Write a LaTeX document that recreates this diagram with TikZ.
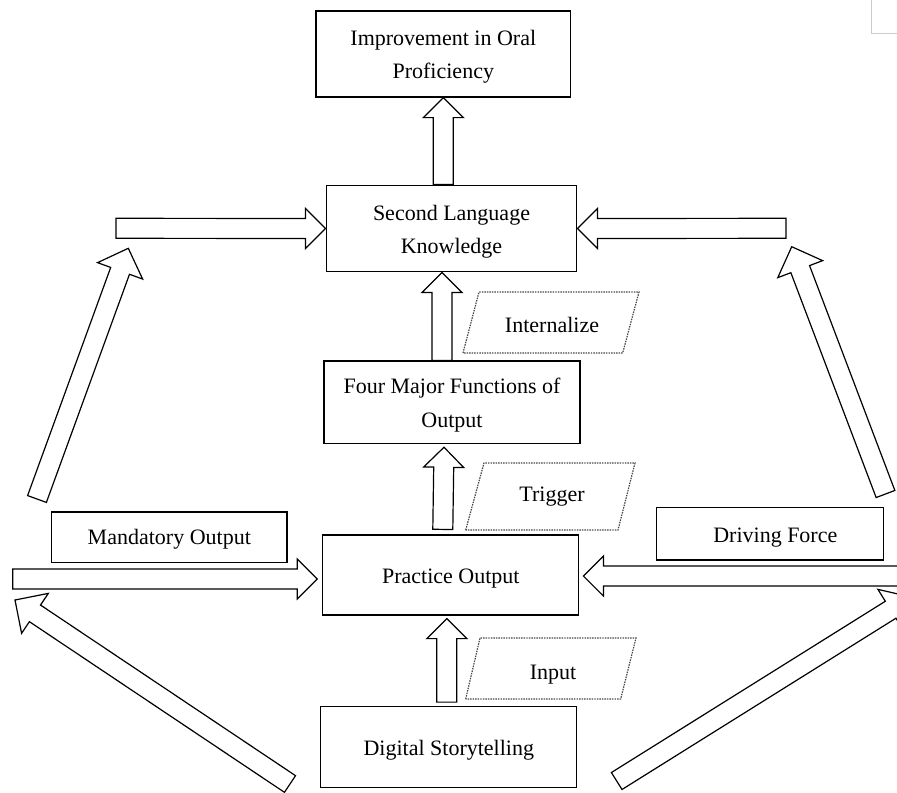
\documentclass[tikz,border=0pt]{standalone}
\usepackage{fontspec}
\setmainfont{Liberation Serif}
\usetikzlibrary{calc}

\tikzset{
  box/.style={draw, rectangle, line width=0.9pt, align=center, inner sep=0pt,
    minimum width=192pt, minimum height=62pt, font=\fontsize{16.5pt}{25pt}\selectfont},
  lbl/.style={align=center, inner sep=0pt, font=\fontsize{16.5pt}{25pt}\selectfont},
  tag/.style={dash pattern=on 1.1pt off 0.8pt, line width=0.9pt, draw=gray!55!black},
  fat/.style={draw, fill=white, line width=0.9pt, line join=miter}
}
% hollow block arrow from #2 to #3, #1 = head size
\newcommand\fatarrow[3][15pt]{%
  \coordinate (hb) at ($(#3)!#1!(#2)$);
  \draw[fat] ($(#2)!7.5pt!90:(#3)$) -- ($(hb)!7.5pt!90:(#3)$) -- ($(hb)!#1!90:(#3)$)
    -- (#3) -- ($(hb)!#1!-90:(#3)$) -- ($(hb)!7.5pt!-90:(#3)$) -- ($(#2)!7.5pt!-90:(#3)$) -- cycle;
}
\newcommand\dn[1]{\rule{0pt}{#1}}

\begin{document}
\begin{tikzpicture}[x=0.75pt, y=-0.75pt]
    \useasboundingbox (0,0) rectangle (897,793);
    \clip (0,0) rectangle (897,793);

    % main column
    \node[box, minimum width=191pt, minimum height=64.5pt] (imp) at (443.3,54) {\dn{16pt}Improvement in Oral\\Proficiency};
    \node[box, minimum width=188pt, minimum height=65pt] (slk) at (451.5,228.5) {\dn{16pt}Second Language\\Knowledge};
    \node[box] (four) at (452,402.3) {\dn{16pt}Four Major Functions of\\Output};
    \node[box, minimum height=60pt] (po) at (450.8,575) {\dn{16pt}Practice Output};
    \node[box, minimum height=60.75pt] (ds) at (448.8,747.2) {\dn{16pt}Digital Storytelling};

    % side boxes
    \node[box, minimum width=176.5pt, minimum height=38pt] (mand) at (169.3,537.3) {\dn{15pt}Mandatory Output};
    \node[box, minimum width=170pt, minimum height=39.2pt] (drive) at (770,533.8) {\dn{17pt}\hspace{8pt}Driving Force};

    % dotted labels
    \draw[tag] (463,353) -- (479,292) -- (639,292) -- (622.7,353) -- cycle;
    \node[lbl] (intl) at (552,325) {Internalize};
    \draw[tag] (465.7,530) -- (484,463) -- (635,463) -- (618,530) -- cycle;
    \node[lbl] (trig) at (552,497) {Trigger};
    \draw[tag] (465.7,699) -- (480,638) -- (636,638) -- (620.7,699) -- cycle;
    \node[lbl] (inp) at (553,675) {Input};

    % vertical arrows
    \coordinate (s1) at (imp.south |- slk.north);
    \fatarrow{s1}{imp.south}
    \coordinate (f2) at ([shift={(-10,0)}]four.north);
    \coordinate (t2) at (f2 |- slk.south);
    \fatarrow{f2}{t2}
    \coordinate (f3) at ([shift={(-8,-5)}]po.north);
    \coordinate (t3) at ([shift={(-8,3)}]four.south);
    \fatarrow{f3}{t3}
    \coordinate (f4) at ([shift={(-2,-4)}]ds.north);
    \coordinate (t4) at ([shift={(-4,3)}]po.south);
    \fatarrow{f4}{t4}

    % free ends of the side arrows
    \coordinate (ul) at (116,228.3);
    \coordinate (ur) at (786,228.3);
    \coordinate (ml) at (12.7,579);
    \coordinate (mr) at (915,576);
    \coordinate (mltip) at ([shift={(-5,4)}]po.west);
    \coordinate (mrtip) at ([shift={(4,1)}]po.east);

    % diagonal arrows
    \coordinate (dl1) at (37,499);    \coordinate (dl1t) at (128.3,248.3);
    \coordinate (dr1) at (885.5,494); \coordinate (dr1t) at (791.7,246.7);
    \coordinate (dl2) at (290,784);   \coordinate (dl2t) at (15,600);
    \coordinate (dr2) at (616.7,781); \coordinate (dr2t) at (911,597);
    \fatarrow[18pt]{dl1}{dl1t}
    \fatarrow[18pt]{dr1}{dr1t}
    \fatarrow[18pt]{dl2}{dl2t}
    \fatarrow[18pt]{dr2}{dr2t}

    % horizontal arrows
    \fatarrow{ul}{slk.west}
    \fatarrow{ur}{slk.east}
    \fatarrow{ml}{mltip}
    \fatarrow{mr}{mrtip}

    \draw[gray!40] (871.7,0) -- (871.7,33) -- (897,33);
\end{tikzpicture}
\end{document}
